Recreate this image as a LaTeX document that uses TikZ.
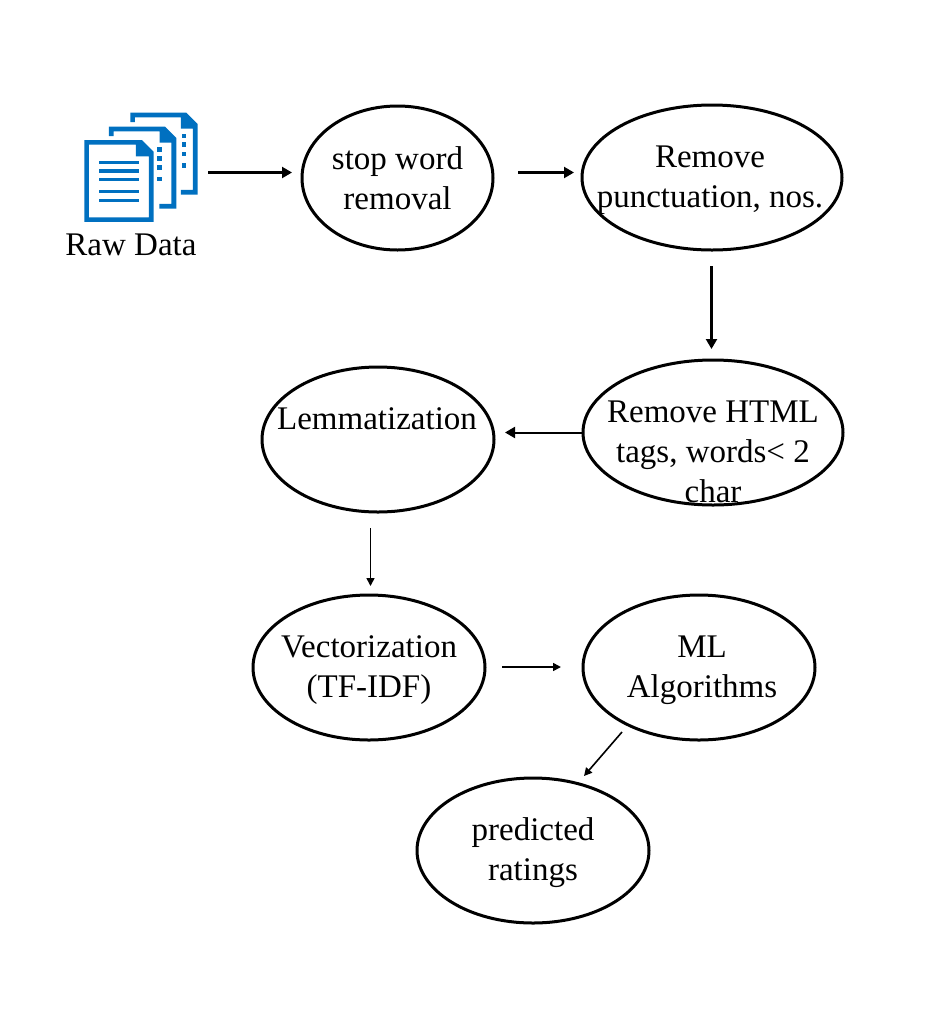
\documentclass[tikz,border=0pt]{standalone}
\usepackage{fontspec}
\setmainfont{Liberation Serif}
\usetikzlibrary{shapes.geometric,arrows.meta}
\definecolor{docblue}{HTML}{0070C0}
\tikzset{
  oval/.style={ellipse,draw=black,line width=3pt,fill=none,inner sep=0pt,outer sep=0pt},
  small/.style={minimum width=232pt,minimum height=145pt},
  wide/.style={minimum width=260pt,minimum height=145pt},
  lab/.style={align=center,inner sep=0pt,font=\fontsize{33}{40}\selectfont,text=black},
  conn/.style={draw=black,line width=2.2pt,-{Triangle[length=10pt,width=11pt]}},
  thinconn/.style={draw=black,line width=1.6pt,-{Triangle[length=8pt,width=8pt]}},
  docfill/.style={fill=docblue,draw=none,even odd rule}
}
\begin{document}
\begin{tikzpicture}[x=1pt,y=-1pt]
\useasboundingbox (0,0) rectangle (950,1010);
% icon
\begin{scope}[shift={(70,100)},x=0.3333pt,y=-0.3333pt]
  % back sheet
  \fill[docfill] (181,66) -- (181,38) -- (349,38) -- (383,72) -- (383,284) -- (333,284) -- (333,270) -- (369,270) -- (369,86) -- (333,86) -- (333,52) -- (195,52) -- (195,66) -- cycle;
  \foreach \y in {108,134,162,196} \fill[docblue] (335,\y-7) rectangle (349,\y+7);
  % middle sheet
  \fill[docfill] (117,108) -- (117,80) -- (285,80) -- (319,114) -- (319,326) -- (268,326) -- (268,312) -- (304,312) -- (304,128) -- (269,128) -- (269,94) -- (131,94) -- (131,108) -- cycle;
  \foreach \y in {148,176,203,237} \fill[docblue] (262,\y-7) rectangle (276,\y+7);
  % front sheet
  \fill[docfill] (43,120) -- (216,120) -- (251,155) -- (251,366) -- (43,366) -- cycle
     (57,134) -- (57,352) -- (237,352) -- (237,169) -- (198,169) -- (198,134) -- cycle;
  \foreach \y/\e in {187/208,213/208,238/208,275/207,301/207} \fill[docblue] (87,\y-5) rectangle (\e,\y+5);
\end{scope}
\coordinate (docsE) at (208,172.5);
\node[lab] (raw) at (131,245) {Raw Data};
% ellipses
\node[oval,minimum width=191pt,minimum height=144pt] (stop) at (397.5,178) {};
\node[oval,wide] (punct) at (712,177.5) {};
\node[oval,wide] (html) at (713,432.5) {};
\node[oval,small] (lemma) at (378,439.5) {};
\node[oval,small] (vec) at (369,667.5) {};
\node[oval,small] (ml) at (699,667.5) {};
\node[oval,small] (pred) at (533,850.5) {};
% labels
\node[lab] (stopT) at (397.5,178) {stop word\\removal};
\node[lab] (punctT) at (710,180) {Remove\\punctuation, nos.};
\node[lab] (htmlT) at (713,452) {Remove HTML\\tags, words< 2\\char};
\node[lab] (lemmaT) at (377,419) {Lemmatization};
\node[lab] (vecT) at (369,670) {Vectorization\\(TF-IDF)};
\node[lab] (mlT) at (702,670) {ML\\Algorithms};
\node[lab] (predT) at (533,853) {predicted\\ratings};
% free connector ends
\coordinate (a1) at (292,172.5);
\coordinate (b0) at (518,172.5);
\coordinate (b1) at (574,172.5);
\coordinate (c0) at (711.5,266);
\coordinate (c1) at (711.5,349);
\coordinate (d1) at (505,432.5);
\coordinate (e0) at (370.5,528);
\coordinate (e1) at (370.5,586);
\coordinate (f0) at (502,667);
\coordinate (f1) at (561,667);
\coordinate (g0) at (622,732);
\coordinate (g1) at (584,776);
\draw[conn] (docsE) -- (a1);
\draw[conn] (b0) -- (b1);
\draw[conn] (c0) -- (c1);
\draw[conn,line width=2pt] (html.west) -- (d1);
\draw[thinconn] (e0) -- (e1);
\draw[thinconn] (f0) -- (f1);
\draw[thinconn] (g0) -- (g1);
\end{tikzpicture}
\end{document}
